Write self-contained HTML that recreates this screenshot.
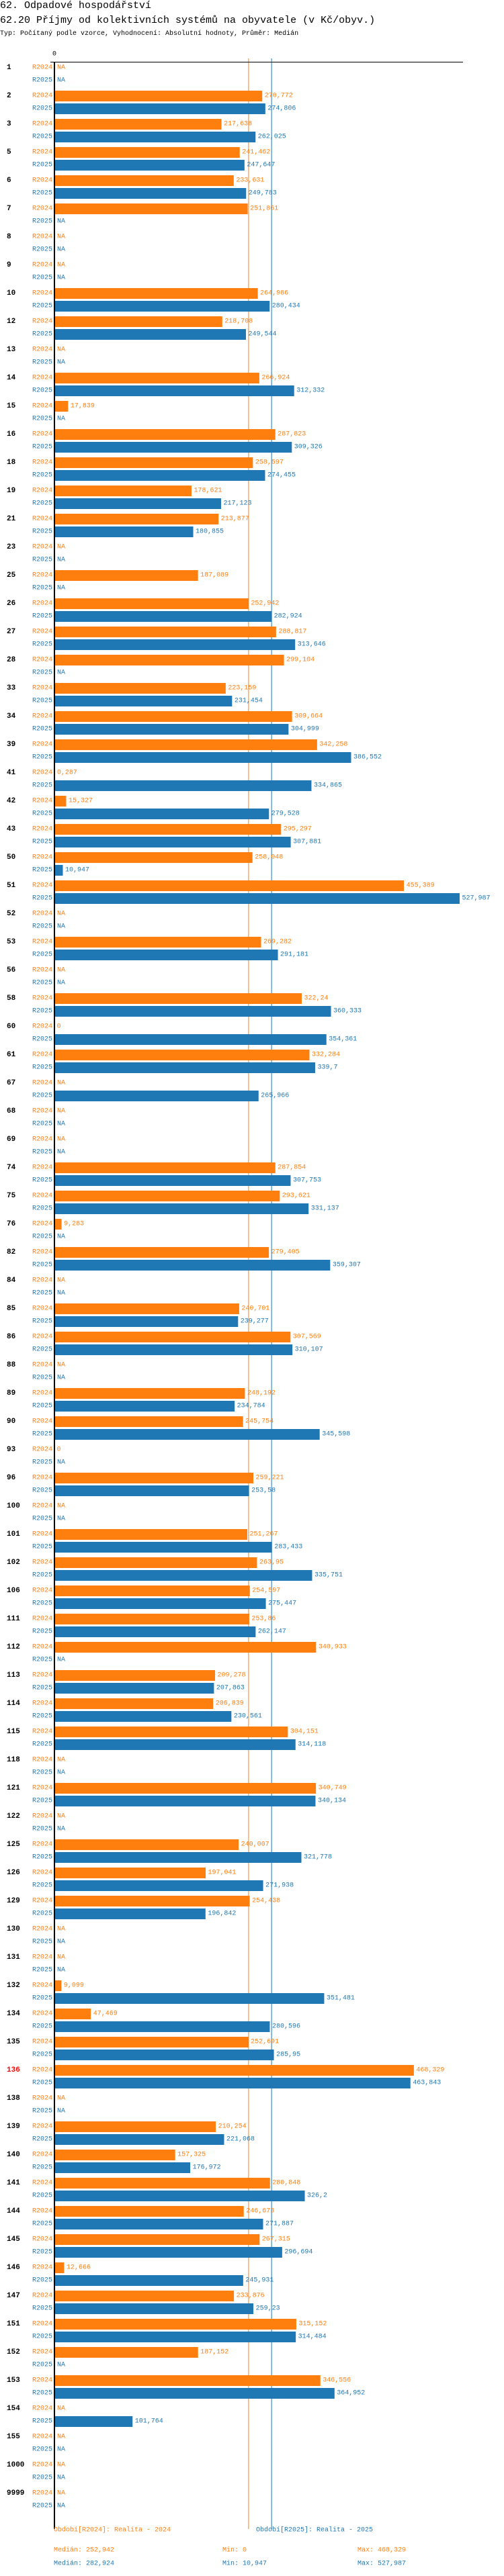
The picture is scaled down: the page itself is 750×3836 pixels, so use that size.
<!DOCTYPE html>
<html><head><meta charset="utf-8">
<style>
html,body{margin:0;padding:0;background:#fff;}
body{width:750px;height:3836px;overflow:hidden;position:relative;font-family:"Liberation Mono",monospace;}
.t{position:absolute;left:0;white-space:nowrap;color:#000;}
</style></head>
<body>
<div class="t" style="top:0px;font-size:15px;line-height:17px;">62. Odpadové hospodářství</div>
<div class="t" style="top:22px;font-size:15px;line-height:17px;">62.20 Příjmy od kolektivních systémů na obyvatele (v Kč/obyv.)</div>
<div class="t" style="top:45px;font-size:10px;line-height:12px;">Typ: Počítaný podle vzorce, Vyhodnocení: Absolutní hodnoty, Průměr: Medián</div>
<svg id="chart" width="750" height="3836" style="position:absolute;left:0;top:0;" xmlns="http://www.w3.org/2000/svg" font-family="Liberation Mono, monospace"></svg>
<script>
const categories = ["1","2","3","5","6","7","8","9","10","12","13","14","15","16","18","19","21","23","25","26","27","28","33","34","39","41","42","43","50","51","52","53","56","58","60","61","67","68","69","74","75","76","82","84","85","86","88","89","90","93","96","100","101","102","106","111","112","113","114","115","118","121","122","125","126","129","130","131","132","134","135","136","138","139","140","141","144","145","146","147","151","152","153","154","155","1000","9999"];
const values2024 = [null,270.772,217.638,241.462,233.631,251.861,null,null,264.986,218.708,null,266.924,17.839,287.823,258.597,178.621,213.877,null,187.089,252.942,288.817,299.104,223.159,309.664,342.258,0.287,15.327,295.297,258.048,455.389,null,269.282,null,322.24,0,332.284,null,null,null,287.854,293.621,9.283,279.405,null,240.701,307.569,null,248.192,245.754,0,259.221,null,251.267,263.95,254.597,253.86,340.933,209.278,206.839,304.151,null,340.749,null,240.007,197.041,254.438,null,null,9.099,47.469,252.691,468.329,null,210.254,157.325,280.848,246.673,267.315,12.666,233.876,315.152,187.152,346.556,null,null,null,null];
const values2025 = [null,274.806,262.025,247.647,249.783,null,null,null,280.434,249.544,null,312.332,null,309.326,274.455,217.123,180.855,null,null,282.924,313.646,null,231.454,304.999,386.552,334.865,279.528,307.881,10.947,527.987,null,291.181,null,360.333,354.361,339.7,265.966,null,null,307.753,331.137,null,359.307,null,239.277,310.107,null,234.784,345.598,null,253.58,null,283.433,335.751,275.447,262.147,null,207.863,230.561,314.118,null,340.134,null,321.778,271.938,196.842,null,null,351.481,280.596,285.95,463.843,null,221.068,176.972,326.2,271.887,296.694,245.931,259.23,314.484,null,364.952,101.764,null,null,null];
const medians = [252.942, 282.924];
const highlighted = ["136"];

const svg = document.getElementById('chart');
const NS = 'http://www.w3.org/2000/svg';
const X0 = 81, SCALE = 1.1421;
const xs = v => X0 + v * SCALE;
const Y0 = 101, PITCH = 42;
const yc = (i, s) => Y0 + i * PITCH + s * 19;
const COL = ['#ff7f0e', '#1f77b4'];
const SER = ['R2024', 'R2025'];
const fmt = v => String(v).replace('.', ',');
function mk(tag, attrs, txt) {
  const e = document.createElementNS(NS, tag);
  for (const k in attrs) e.setAttribute(k, attrs[k]);
  if (txt !== undefined) e.textContent = txt;
  svg.appendChild(e);
  return e;
}
const bottom = yc(categories.length - 1, 1) + 34;

// median lines
medians.forEach((m, s) => {
  const l = mk('line', {x1: xs(m), x2: xs(m), y1: 87, y2: bottom, stroke: COL[s], 'stroke-width': 1});
  
  
});

// bars
categories.forEach((c, i) => {
  const g = mk('text', {x: 10, y: yc(i, 0), 'font-size': 11, 'font-weight': 'bold', 'dominant-baseline': 'central', fill: highlighted.includes(c) ? '#ff0000' : '#000'}, c);
  
  
  [values2024, values2025].forEach((arr, s) => {
    const y = yc(i, s);
    const sl = mk('text', {x: 78, y: y, 'font-size': 10, 'text-anchor': 'end', 'dominant-baseline': 'central', fill: COL[s]}, SER[s]);
    
    
    const v = arr[i];
    if (v === null) {
      const na = mk('text', {x: 85, y: y, 'font-size': 10, 'dominant-baseline': 'central', fill: COL[s]}, 'NA');
      
      
      return;
    }
    const w = xs(v) - X0;
    if (w > 0.5) {
      const r = mk('rect', {x: X0, y: y - 8, width: w, height: 16, fill: COL[s]});
      
      
    }
    const vl = mk('text', {x: Math.max(xs(v), X0) + 3.5, y: y, 'font-size': 10, 'dominant-baseline': 'central', fill: COL[s]}, fmt(v));
    
    
  });
});

// axes
const ax = mk('line', {x1: 75, x2: 689, y1: 92.5, y2: 92.5, stroke: '#000', 'stroke-width': 1});


const ay = mk('line', {x1: 81, x2: 81, y1: 92, y2: bottom, stroke: '#000', 'stroke-width': 2});


const z = mk('text', {x: 78, y: 81, 'font-size': 10, 'dominant-baseline': 'central', fill: '#000'}, '0');



// legend / stats
const legend = [
  [80, 3768, COL[0], 'Období[R2024]: Realita - 2024', 'legend-entry-2024'],
  [381, 3768, COL[1], 'Období[R2025]: Realita - 2025', 'legend-entry-2025'],
  [80, 3798, COL[0], 'Medián: 252,942', 'stat-median-2024'],
  [331, 3798, COL[0], 'Min: 0', 'stat-min-2024'],
  [532, 3798, COL[0], 'Max: 468,329', 'stat-max-2024'],
  [80, 3818, COL[1], 'Medián: 282,924', 'stat-median-2025'],
  [331, 3818, COL[1], 'Min: 10,947', 'stat-min-2025'],
  [532, 3818, COL[1], 'Max: 527,987', 'stat-max-2025']
];
legend.forEach(l => {
  const t = mk('text', {x: l[0], y: l[1], 'font-size': 10, 'dominant-baseline': 'central', fill: l[2]}, l[3]);
  
  
});
</script>
</body></html>
